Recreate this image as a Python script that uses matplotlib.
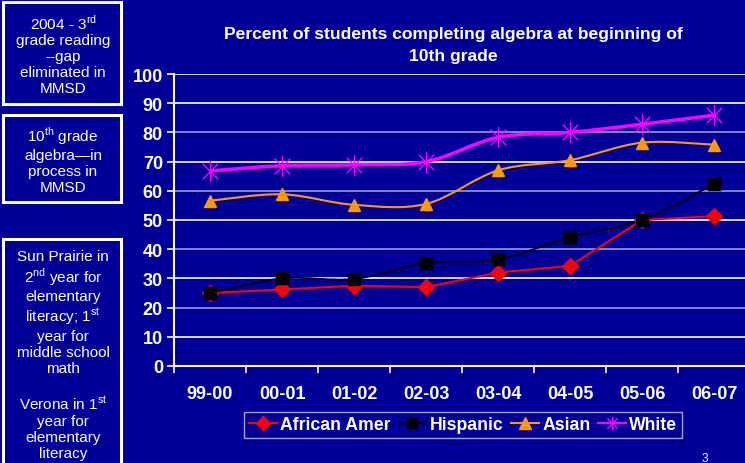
import numpy as np
import matplotlib.pyplot as plt
from matplotlib.path import Path
from matplotlib.patches import PathPatch, Rectangle
from matplotlib.lines import Line2D

plt.rcParams['font.family'] = ['Liberation Sans', 'DejaVu Sans']

years = ['99-00', '00-01', '01-02', '02-03', '03-04', '04-05', '05-06', '06-07']
african_amer = [25.0, 26.2, 27.5, 27.0, 32.0, 34.3, 50.0, 51.3]
hispanic = [25.0, 30.0, 29.8, 35.2, 36.5, 44.1, 50.1, 62.3]
asian = [56.6, 58.8, 55.2, 55.5, 67.0, 70.5, 76.5, 75.8]
white = [66.8, 68.6, 68.9, 70.0, 78.3, 80.0, 82.8, 85.9]

bg = '#000099'
lav = '#9a9acc'

# star marker: vertical bar plus an X
star = Path([(0, -1), (0, 1), (-0.75, -0.75), (0.75, 0.75), (-0.75, 0.75), (0.75, -0.75)],
            [Path.MOVETO, Path.LINETO, Path.MOVETO, Path.LINETO, Path.MOVETO, Path.LINETO])

fig = plt.figure(figsize=(7.45, 4.64), dpi=100, facecolor=bg)
ax = fig.add_axes([174/745, 1-367/464, 576/745, 292/464])
ax.set_facecolor(bg)


def smooth(ax, x, y, color, lw):
    # Excel-like smoothed line (Catmull-Rom as cubic beziers)
    x = np.asarray(x, float)
    y = np.asarray(y, float)
    verts = [(x[0], y[0])]
    codes = [Path.MOVETO]
    n = len(x)
    for i in range(n - 1):
        p0 = np.array([x[max(i-1, 0)], y[max(i-1, 0)]])
        p1 = np.array([x[i], y[i]])
        p2 = np.array([x[i+1], y[i+1]])
        p3 = np.array([x[min(i+2, n-1)], y[min(i+2, n-1)]])
        c1 = p1 + (p2 - p0) / 6
        c2 = p2 - (p3 - p1) / 6
        verts += [tuple(c1), tuple(c2), tuple(p2)]
        codes += [Path.CURVE4] * 3
    ax.add_patch(PathPatch(Path(verts, codes), fill=False, edgecolor=color, lw=lw, zorder=3))


xs = np.arange(len(years))

for v in range(10, 101, 10):
    ax.axhline(v, color=lav if v in (20, 40, 60, 80) else 'white', lw=1.2, zorder=1)

# name, values, colour, marker, size, legend size, line width, smoothed
series = [
    ('African Amer', african_amer, 'red', 'D', 8, 7, 1.5, False),
    ('Hispanic', hispanic, 'black', 's', 8, 6.5, 1.3, True),
    ('Asian', asian, '#ff9900', '^', 9, 8, 1.5, True),
    ('White', white, '#ff00ff', star, 15, 10, 2.5, True),
]
handles = []
for name, vals, col, mk, ms, lms, lw, sm in series:
    if sm:
        smooth(ax, xs, vals, col, lw)
    else:
        ax.plot(xs, vals, color=col, lw=lw, zorder=3)
    ax.plot(xs, vals, ls='none', marker=mk, ms=ms, color=col, mec=col, mew=1.0, zorder=4)
    handles.append(Line2D([], [], color=col, lw=min(lw, 1.5), marker=mk, ms=lms, mec=col, label=name))

ax.set_xlim(-0.5, 7.5)
ax.set_ylim(0, 100)
ax.set_yticks(range(0, 101, 10))
ax.set_xticks(xs)
ax.set_xticklabels(years)
ax.set_xticks(np.arange(-0.5, 8, 1), minor=True)
ax.tick_params(axis='x', which='major', length=0, pad=14, colors='white', labelsize=13)
ax.tick_params(axis='x', which='minor', length=5, color='white', width=1.2, direction='out')
ax.tick_params(axis='y', length=5, color='white', width=1.2, colors='white', labelsize=13, pad=3)
for lbl in ax.get_xticklabels() + ax.get_yticklabels():
    lbl.set_fontweight('bold')
for s in ['top', 'right']:
    ax.spines[s].set_visible(False)
for s in ['left', 'bottom']:
    ax.spines[s].set_color('white')
    ax.spines[s].set_linewidth(1.5)

fig.text(453/745, 1-35/464, 'Percent of students completing algebra at beginning of',
         color='white', fontsize=12.6, fontweight='bold', ha='center', va='center')
fig.text(453/745, 1-57/464, '10th grade',
         color='white', fontsize=12.6, fontweight='bold', ha='center', va='center')

leg = fig.legend(handles=handles, loc='center', bbox_to_anchor=(463/745, 1-426/464), ncol=4,
                 frameon=True, fancybox=False, handlelength=1.6, handletextpad=0.2,
                 columnspacing=0.4, borderpad=0.25, borderaxespad=0,
                 prop={'weight': 'bold', 'size': 12.7})
leg.get_frame().set_facecolor(bg)
leg.get_frame().set_edgecolor('#ccccee')
leg.get_frame().set_linewidth(1.0)
for t in leg.get_texts():
    t.set_color('white')

# left annotation boxes
boxes = [(3, 3, 118, 102), (3, 116, 118, 87), (3, 240, 118, 230)]
for bx, by, bw, bh in boxes:
    fig.patches.append(Rectangle((bx/745, 1-(by+bh)/464), bw/745, bh/464, transform=fig.transFigure,
                                 fill=False, edgecolor='white', lw=2.2))

tk = dict(color='white', fontsize=11, ha='center', va='center', linespacing=1.18)
fig.text(63/745, 1-55/464, '2004 - 3$^{\\mathregular{rd}}$\ngrade reading\n--gap\neliminated in\nMMSD', **tk)
fig.text(63/745, 1-160/464, '10$^{\\mathregular{th}}$ grade\nalgebra\u2014in\nprocess in\nMMSD', **tk)
fig.text(63/745, 1-313/464, 'Sun Prairie in\n2$^{\\mathregular{nd}}$ year for\nelementary\nliteracy; 1$^{\\mathregular{st}}$\nyear for\nmiddle school\nmath', **tk)
fig.text(63/745, 1-428/464, 'Verona in 1$^{\\mathregular{st}}$\nyear for\nelementary\nliteracy', **tk)

fig.text(705/745, 1-459/464, '3', color='white', fontsize=8.5, ha='center', va='center')

fig.savefig('out.png', dpi=100, facecolor=bg)
